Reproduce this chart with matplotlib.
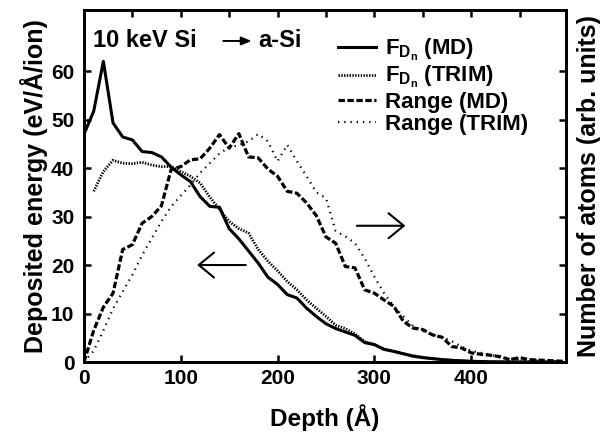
import matplotlib
matplotlib.use("Agg")
import matplotlib.pyplot as plt
from matplotlib.ticker import MultipleLocator

plt.rcParams['font.family'] = ['Liberation Sans', 'DejaVu Sans']
plt.rcParams['font.weight'] = 'bold'
plt.rcParams['mathtext.fontset'] = 'custom'
plt.rcParams['mathtext.rm'] = 'Liberation Sans:bold'
plt.rcParams['mathtext.it'] = 'Liberation Sans:bold'
plt.rcParams['mathtext.bf'] = 'Liberation Sans:bold'

# deposited energy, F_Dn (eV/A/ion)
fd_md_x = list(range(0, 500, 10))
fd_md_y = [47, 51.7, 62, 49.3, 46.4, 45.8, 43.4, 43.2, 42.3, 40.2,
           38.6, 37.2, 34.1, 32.1, 31.9, 27.5, 25.4, 22.9, 20.4, 17.5,
           16.0, 13.9, 13.2, 11.1, 9.4, 7.9, 6.9, 6.2, 5.5, 4.0,
           3.6, 2.6, 2.2, 1.7, 1.2, 0.9, 0.7, 0.5, 0.35, 0.25,
           0.15, 0.1, 0.05, 0.03, 0.02, 0.01, 0.01, 0, 0, 0]

fd_trim_x = list(range(10, 500, 10))
fd_trim_y = [35.2, 39.3, 41.6, 41.0, 40.9, 41.2, 40.6, 40.3, 40.3,
             39.3, 38.3, 36.9, 34.0, 31.5, 29.0, 27.5, 26.6, 23.2, 20.8,
             18.8, 16.6, 14.9, 12.8, 11.1, 9.4, 7.6, 6.9, 5.8, 4.2,
             3.6, 2.7, 2.2, 1.7, 1.3, 1.0, 0.7, 0.5, 0.35, 0.25,
             0.15, 0.1, 0.05, 0.03, 0.02, 0.01, 0.01, 0, 0, 0]

# range profiles (arb. units)
rng_md_x = list(range(0, 510, 10))
rng_md_y = [0, 6.5, 11.3, 14.2, 23.2, 24.2, 28.6, 30.0, 32.2, 39.7,
            40.3, 41.7, 41.9, 44.1, 46.9, 44.1, 47.1, 42.3, 42.1, 39.8,
            38.3, 35.2, 34.8, 32.8, 30.2, 25.8, 24.5, 19.7, 19.4, 14.9,
            14.2, 12.8, 11.5, 8.4, 7.0, 6.7, 5.6, 5.1, 3.2, 2.9,
            1.9, 1.6, 1.4, 1.1, 0.5, 0.9, 0.5, 0.4, 0.3, 0.2, 0.1]

rng_trim_x = list(range(0, 500, 10))
rng_trim_y = [0, 2.3, 6.5, 11.0, 14.5, 18.0, 22.0, 25.5, 29.0, 32.0,
              34.3, 36.5, 39.0, 41.0, 43.0, 44.3, 44.7, 45.5, 47.0, 45.5,
              41.4, 44.8, 41.4, 38.3, 35.0, 33.8, 27.0, 25.9, 24.5, 21.4,
              17.6, 14.2, 11.5, 9.4, 7.4, 6.4, 5.6, 5.2, 4.3, 3.2,
              2.3, 1.9, 1.5, 0.9, 0.7, 0.5, 0.4, 0.3, 0.2, 0.1]

fig = plt.figure(figsize=(6.03, 4.32), dpi=100)
ax = fig.add_axes([0.1393, 0.162, 0.7993, 0.815])
ax2 = ax.twinx()

l1, = ax.plot(fd_md_x, fd_md_y, color='black', lw=2.2, ls='-')
l2, = ax.plot(fd_trim_x, fd_trim_y, color='black', lw=2.0, ls=(0, (0.5, 0.5)))
l3, = ax2.plot(rng_md_x, rng_md_y, color='black', lw=2.3, ls=(0, (2.0, 0.8)))
l4, = ax2.plot(rng_trim_x, rng_trim_y, color='black', lw=1.6, ls=(0, (0.6, 2.2)))

for a in (ax, ax2):
    a.set_xlim(0, 498)
    a.set_ylim(0, 72.6)
    a.set_yticks([0, 10, 20, 30, 40, 50, 60])
    for s in a.spines.values():
        s.set_linewidth(2)

ax.set_xticks([0, 100, 200, 300, 400])
ax.xaxis.set_minor_locator(MultipleLocator(50))
ax.tick_params(which='major', direction='in', length=5, width=1.8,
               top=True, labelsize=15, pad=5)
ax.tick_params(which='minor', direction='in', length=5, width=1.8,
               top=True, bottom=False)
ax.tick_params(axis='y', pad=7)
ax2.tick_params(axis='y', direction='in', length=5, width=1.8, labelright=False)

ax.set_ylabel('Deposited energy (eV/Å/ion)', fontsize=18, fontweight='bold', labelpad=2)
ax2.set_ylabel('Number of atoms (arb. units)', fontsize=18, fontweight='bold', labelpad=8)
ax.set_xlabel('Depth (Å)', fontsize=17.5, fontweight='bold', labelpad=12)

# title: "10 keV Si -> a-Si" with a full-size arrow
ax.text(9, 65, '10 keV Si', fontsize=17, fontweight='bold')
ax.annotate('', xy=(176, 66.2), xytext=(141, 66.2),
            arrowprops=dict(arrowstyle='-|>, head_length=0.6, head_width=0.25',
                            lw=1.4, color='black'))
ax.text(180, 65, 'a-Si', fontsize=17, fontweight='bold')

ax.annotate('', xy=(114, 20), xytext=(170, 20),
            arrowprops=dict(arrowstyle='->, head_length=1.1, head_width=0.9', lw=1.5, color='black'))
ax.annotate('', xy=(335, 28.1), xytext=(279, 28.1),
            arrowprops=dict(arrowstyle='->, head_length=1.1, head_width=0.9', lw=1.5, color='black'))

leg = ax.legend([l1, l2, l3, l4],
                [r'F$_{D_n}$ (MD)', r'F$_{D_n}$ (TRIM)', 'Range (MD)', 'Range (TRIM)'],
                loc='upper left', bbox_to_anchor=(0.495, 0.967), frameon=False,
                fontsize=16, handlelength=1.7, handletextpad=0.4,
                labelspacing=0.05, borderaxespad=0.3)

fig.savefig('out.png', dpi=100)
